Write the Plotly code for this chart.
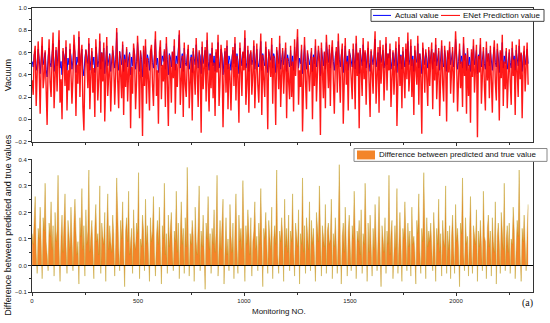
import numpy as np
import plotly.graph_objects as go

# ---------------- data (values in hundredths) ----------------
actual_pct = [
52,47,58,61,44,50,63,55,41,57,66,49,53,60,45,38,56,64,51,47,
59,68,43,54,62,48,57,71,46,52,40,61,58,50,65,44,55,49,63,57,
45,53,67,60,42,56,51,74,48,59,63,46,39,55,62,57,50,68,44,53,
61,49,56,42,65,58,47,53,70,45,60,52,64,41,57,66,48,55,59,43,
50,62,57,46,54,78,52,44,61,56,49,67,43,58,51,63,47,55,60,40,
56,48,64,59,45,52,69,57,43,61,54,38,62,50,66,47,58,53,44,60,
63,51,46,58,72,49,55,42,60,65,48,57,52,61,45,68,54,40,59,56,
47,60,53,66,44,57,50,62,76,46,55,59,43,64,51,48,58,63,45,54,
58,42,61,55,49,67,53,46,60,57,41,65,50,56,62,47,71,52,44,59,
51,64,48,57,43,60,55,69,46,52,63,58,40,54,61,49,66,45,57,53,
44,56,62,50,68,47,59,53,41,64,57,48,60,55,73,46,51,62,43,58,
60,49,54,66,45,58,63,51,47,56,70,44,59,52,48,65,55,42,61,57,
53,67,46,59,55,42,62,57,50,68,45,54,61,49,56,64,43,58,52,47,
62,48,57,44,65,53,59,74,46,55,50,63,41,58,67,52,45,60,56,49,
55,61,43,58,50,66,47,54,62,57,39,64,53,48,60,45,69,56,51,63,
46,59,65,52,44,57,61,49,70,54,47,58,63,42,55,66,50,57,44,61,
58,50,47,63,56,45,68,53,59,41,62,55,48,67,52,60,46,57,64,51,
43,61,56,49,58,72,47,55,60,44,65,51,57,62,46,53,68,49,59,55,
63,45,52,60,48,57,64,42,56,67,50,58,45,61,54,47,63,52,70,49,
54,66,48,57,43,62,55,51,68,46,59,53,41,64,57,49,60,55,46,62,
50,57,63,45,59,52,67,48,55,61,44,58,66,51,47,62,56,43,60,54,
65,49,56,61,47,54,72,58,45,52,63,50,57,46,68,53,59,44,62,48,
56,43,60,53,66,49,57,62,41,58,54,67,47,55,61,50,45,64,52,59,
48,62,55,44,58,65,51,47,63,56,42,60,53,69,46,57,50,61,45,54,
60,51,46,64,53,57,44,62,55,48,66,52,59,43,57,61,49,56,63,50,
]
predicted_pct = [
35,22,58,66,12,40,70,45,5,51,74,28,38,62,18,-5,48,72,33,20,
55,78,10,42,65,25,50,80,15,36,0,64,52,30,71,8,44,26,68,47,
14,38,76,60,3,49,32,79,20,57,67,11,-10,43,63,50,28,73,9,39,
64,24,46,2,72,53,17,37,77,6,60,34,69,-2,48,74,21,41,58,7,
31,66,50,13,40,82,35,10,61,45,19,70,4,54,29,65,16,43,59,-8,
47,23,68,57,9,33,75,50,1,62,39,-15,66,30,72,14,55,36,8,61,
67,32,12,52,79,21,44,-4,60,71,18,49,34,63,11,74,41,-6,58,46,
15,61,37,72,5,50,29,66,80,13,42,57,2,69,31,20,53,67,10,40,
56,-1,64,43,22,73,36,11,62,48,-12,70,27,45,65,16,78,33,7,58,
28,69,19,51,3,63,42,76,12,35,67,54,-7,40,64,24,71,9,50,38,
8,46,65,30,74,17,57,37,-3,69,49,21,61,44,80,13,32,66,6,55,
62,22,41,71,10,53,68,31,15,47,77,4,58,36,20,70,45,-9,63,50,
38,73,14,57,43,-5,65,51,27,75,11,40,64,23,48,69,1,55,34,18,
66,20,52,7,72,39,59,81,13,44,29,67,-11,54,74,35,9,62,47,25,
45,64,0,56,30,72,16,41,66,52,-14,69,38,19,61,10,76,46,28,67,
12,58,71,35,5,50,65,24,77,42,15,55,68,-4,44,73,31,52,8,63,
54,29,18,68,47,9,75,39,60,-8,64,45,21,73,36,62,13,50,70,33,
2,63,48,23,57,79,14,43,65,6,71,32,53,67,17,40,74,26,59,44,
68,11,37,62,22,52,70,-6,46,74,30,57,10,65,42,19,68,36,78,25,
41,72,20,54,4,66,45,31,75,13,59,38,-13,69,50,24,63,44,12,65,
30,53,69,9,60,35,73,18,43,64,3,56,71,32,16,66,48,-2,62,42,
70,23,47,65,15,40,79,55,7,36,68,28,52,11,74,39,58,5,64,21,
49,-3,63,38,72,24,51,67,-16,57,42,73,14,45,65,30,8,70,35,59,
19,66,44,6,55,71,33,17,68,48,-1,62,37,76,12,52,27,64,10,41,
63,34,13,70,39,54,4,67,45,20,72,36,60,1,50,66,25,47,69,31,
]
difference_pct = [
12,8,17,26,5,-3,14,10,22,7,-5,18,13,31,9,4,-2,16,11,24,
6,15,-4,20,9,13,34,7,-6,11,19,5,14,27,8,-3,17,12,6,22,
10,-2,16,25,13,4,9,-7,18,11,29,6,15,-4,21,8,13,36,5,10,
17,7,-5,14,23,9,12,4,30,-3,16,11,8,20,-6,13,27,6,15,9,
5,19,12,-4,8,33,14,7,-2,17,10,24,6,-8,13,18,9,28,4,11,
14,-3,21,9,6,16,12,35,-5,10,7,19,13,-2,25,8,15,4,-6,18,
9,13,26,5,-4,11,17,8,22,6,-7,15,10,31,4,12,-3,19,7,14,
20,6,-2,13,9,28,5,16,-5,11,24,8,14,-3,18,7,37,10,-4,12,
8,17,11,-6,22,9,4,15,30,-2,13,7,19,5,-9,16,10,26,6,12,
-3,14,8,21,5,12,34,-4,9,17,6,13,25,-7,11,18,4,10,-2,23,
11,5,16,-5,13,27,7,-3,19,9,14,6,32,10,-6,15,8,21,12,4,
18,-4,9,13,24,6,11,-2,16,8,29,5,-8,14,10,20,7,-3,17,12,
6,22,-5,10,15,8,36,4,-3,13,9,18,11,-6,25,7,14,5,19,-2,
13,9,27,6,-4,16,11,7,21,-7,12,8,33,5,15,-3,18,10,6,24,
-2,17,8,14,5,-6,20,12,9,30,4,-4,15,11,7,23,-3,13,16,8,
10,25,-5,12,7,18,6,-3,14,38,9,-7,11,16,5,22,8,-4,13,19,
7,-2,15,10,28,6,-5,13,9,17,4,21,-3,12,8,31,11,-6,16,5,
19,9,-4,14,6,23,12,-2,10,26,7,-8,15,11,5,18,-3,13,8,34,
4,12,17,-5,9,15,6,29,-3,11,20,8,-6,14,10,24,5,-2,16,7,
13,-4,22,8,11,5,-7,17,12,27,6,-3,14,9,35,10,-5,18,7,13,
9,16,6,-2,20,11,-6,14,8,25,5,12,-4,17,10,7,30,-3,13,6,
15,-5,11,19,7,-3,23,9,14,6,-8,16,12,33,5,-2,18,8,11,-4,
12,26,6,-3,15,10,8,21,-6,13,7,17,4,-2,28,11,9,-5,14,19,
7,13,-4,18,9,5,24,-7,11,16,8,-3,20,12,6,31,-2,10,15,5,
16,-3,10,8,22,13,-5,7,17,11,36,4,-6,14,9,19,6,-2,12,23,
]
first_no, last_no = 1, 2340
x_ticks = [0, 500, 1000, 1500, 2000]
top_y_ticks = [-0.2, 0.0, 0.2, 0.4, 0.6, 0.8, 1.0]
bottom_y_ticks = [-0.1, 0.0, 0.1, 0.2, 0.3, 0.4]
series_names = ["Actual value", "ENet Prediction value", "Difference between predicted and true value"]

# ---------------- derived ----------------
actual = np.array(actual_pct) / 100
predicted = np.array(predicted_pct) / 100
difference = np.array(difference_pct) / 100
monitoring_no = np.linspace(first_no, last_no, len(actual))

W, H = 550, 323
ML, MR, MT, MB = 32, 17, 5, 31
PW, PH = W - ML - MR, H - MT - MB

def px(xp):
    return (xp - ML) / PW

def py(yp):
    return (H - MB - yp) / PH

FONT = "Liberation Sans, Arial, sans-serif"
AX = "#333333"
BLUE = "#0000ff"
RED = "#ff0000"
ORANGE = "rgb(243,133,42)"
OLIVE = "rgb(190,158,35)"

fig = go.Figure()
fig.add_trace(go.Scatter(x=monitoring_no, y=actual, mode="lines", name=series_names[0],
                         line=dict(color=BLUE, width=1), xaxis="x", yaxis="y", showlegend=False))
fig.add_trace(go.Scatter(x=monitoring_no, y=predicted, mode="lines", name=series_names[1],
                         line=dict(color=RED, width=1.4), opacity=0.9, xaxis="x", yaxis="y", showlegend=False))
fig.add_trace(go.Scatter(x=monitoring_no, y=difference, mode="lines", name=series_names[2],
                         fill="tozeroy", fillcolor=ORANGE, line=dict(color=OLIVE, width=0.45),
                         xaxis="x2", yaxis="y2", showlegend=False))

top_dom = [py(140), py(5)]
bot_dom = [py(292), py(158)]
xr = [0, 2363]

common = dict(showgrid=False, zeroline=False, showline=True, linecolor=AX, linewidth=1,
              ticks="outside", ticklen=3, tickcolor=AX, tickwidth=1,
              tickfont=dict(family=FONT, size=6, color="#222"))

fig.update_layout(
    width=W, height=H, margin=dict(l=ML, r=MR, t=MT, b=MB),
    paper_bgcolor="white", plot_bgcolor="white",
    xaxis=dict(domain=[0, 1], anchor="y", range=xr, tickvals=x_ticks, showticklabels=False,
               mirror=True, minor=dict(dtick=250, tick0=0, ticks="outside", ticklen=2, tickcolor=AX), **common),
    yaxis=dict(domain=top_dom, anchor="x", range=[-0.2, 1.0], tickvals=top_y_ticks, tickformat=".1f",
               mirror=True, minor=dict(dtick=0.1, tick0=0, ticks="outside", ticklen=2, tickcolor=AX), **common),
    xaxis2=dict(domain=[0, 1], anchor="y2", range=xr, tickvals=x_ticks, mirror=False,
                minor=dict(dtick=250, tick0=0, ticks="outside", ticklen=2, tickcolor=AX), **common),
    yaxis2=dict(domain=bot_dom, anchor="x2", range=[-0.1, 0.4], tickvals=bottom_y_ticks, tickformat=".1f",
                mirror=True, minor=dict(dtick=0.05, tick0=0, ticks="outside", ticklen=2, tickcolor=AX), **common),
)

# zero line in lower panel
fig.add_shape(type="line", xref="x2 domain", yref="y2", x0=0, x1=1, y0=0, y1=0,
              line=dict(color="black", width=1.2))

def label(text, xp, yp, size=8, angle=0, xanchor="center", family=FONT):
    fig.add_annotation(text=text, xref="paper", yref="paper", x=px(xp), y=py(yp),
                       xanchor=xanchor, yanchor="middle", textangle=angle, showarrow=False,
                       font=dict(family=family, size=size, color="#111"))

# axis titles
label("Vacuum", 8, 73, size=9, angle=-90)
label("Difference between predicted and true values", 8, 225, size=9, angle=-90)
label("Monitoring NO.", 279, 312, size=8)
label("(a)", 527, 303, size=10, family="Liberation Serif, Times New Roman, serif")

# top legend (manual)
fig.add_shape(type="rect", xref="paper", yref="paper", x0=px(371), x1=px(544), y0=py(18.5), y1=py(6.5),
              line=dict(color="#444", width=1), fillcolor="white")
fig.add_shape(type="line", xref="paper", yref="paper", x0=px(373), x1=px(391), y0=py(12.5), y1=py(12.5),
              line=dict(color=BLUE, width=1))
label(series_names[0], 393, 12.5, xanchor="left")
fig.add_shape(type="line", xref="paper", yref="paper", x0=px(441), x1=px(460), y0=py(12.5), y1=py(12.5),
              line=dict(color=RED, width=1))
label(series_names[1], 461, 12.5, xanchor="left")

# bottom legend (manual)
fig.add_shape(type="rect", xref="paper", yref="paper", x0=px(354), x1=px(547), y0=py(160), y1=py(147),
              line=dict(color="#888", width=1), fillcolor="white")
fig.add_shape(type="rect", xref="paper", yref="paper", x0=px(357), x1=px(375), y0=py(158), y1=py(149),
              line=dict(width=0), fillcolor=ORANGE)
label(series_names[2], 377, 153.5, xanchor="left")

fig.write_html("out.html", config={"displayModeBar": False},
               post_script="document.body.style.margin='0px';")
